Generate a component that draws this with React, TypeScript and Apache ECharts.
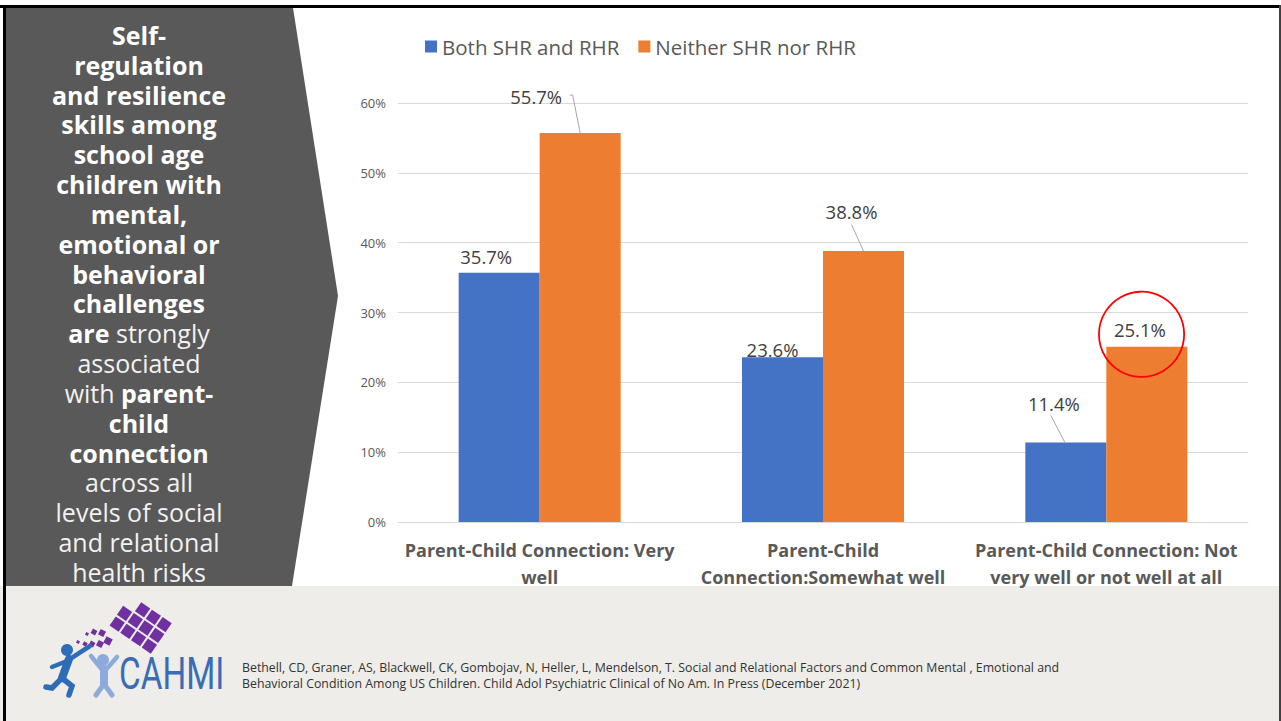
import React, { useEffect, useRef } from 'react';
import * as echarts from 'echarts';

// ---------- data ----------
const categories = [
  'Parent-Child Connection: Very\nwell',
  'Parent-Child\nConnection:Somewhat well',
  'Parent-Child Connection: Not\nvery well or not well at all',
];
const seriesNames = ['Both SHR and RHR', 'Neither SHR nor RHR'];
const bothValues = [35.7, 23.6, 11.4];
const neitherValues = [55.7, 38.8, 25.1];
const yMin = 0;
const yMax = 60;
const yStep = 10;
const highlighted = { series: 1, index: 2 };

const panelLines: [string, string][][] = [
  [['b', 'Self-']],
  [['b', 'regulation']],
  [['b', 'and resilience']],
  [['b', 'skills among']],
  [['b', 'school age']],
  [['b', 'children with']],
  [['b', 'mental,']],
  [['b', 'emotional or']],
  [['b', 'behavioral']],
  [['b', 'challenges']],
  [['b', 'are'], ['n', ' strongly']],
  [['n', 'associated']],
  [['n', 'with '], ['b', 'parent-']],
  [['b', 'child']],
  [['b', 'connection']],
  [['n', 'across all']],
  [['n', 'levels of social']],
  [['n', 'and relational']],
  [['n', 'health risks']],
];
const citationLines = [
  'Bethell, CD, Graner, AS, Blackwell, CK, Gombojav, N, Heller, L, Mendelson, T. Social and Relational Factors and Common Mental , Emotional and',
  'Behavioral Condition Among US Children. Child Adol Psychiatric Clinical of No Am. In Press (December 2021)',
];
const logoText = 'CAHMI';

// ---------- styles ----------
const BLUE = '#4472C4';
const ORANGE = '#ED7D31';
const FONT = "'Open Sans', 'Noto Sans', sans-serif";
const BAR_WIDTH = 81;
const LABEL_OFFSETS = [
  [[-13, -1], [-10, 7], [-12, -24]],
  [[-44, -22], [-12, -25], [-7, -2]],
];
const LEADERS = [
  { s: 1, i: 0, pts: [[-10.5, -38], [-7.5, -38], [0, 0]] },
  { s: 1, i: 1, pts: [[-12, -26.5], [0, 0]] },
  { s: 0, i: 2, pts: [[-15, -27], [-1, 0]] },
];
const CIRCLE = { dx: -5.3, dy: -12.4, r: 42.6 };
const PANEL_FONT = 21;
const PANEL_SCALE = 25 / PANEL_FONT;

function staticGraphics(): any[] {
  const g: any[] = [];
  // footer
  g.push({ type: 'rect', shape: { x: 0, y: 586, width: 1281, height: 135 }, style: { fill: '#eeede9' }, silent: true });
  // left panel chevron
  g.push({
    type: 'polygon',
    shape: { points: [[5, 8], [293, 8], [338, 296], [292, 586], [5, 586]] },
    style: { fill: '#595959' },
    silent: true,
  });
  // frame
  g.push({ type: 'rect', shape: { x: 0, y: 5, width: 1281, height: 3 }, style: { fill: '#000' }, silent: true });
  g.push({ type: 'rect', shape: { x: 3, y: 5, width: 3, height: 716 }, style: { fill: '#000' }, silent: true });
  g.push({ type: 'rect', shape: { x: 1279, y: 5, width: 2, height: 716 }, style: { fill: '#404040' }, silent: true });

  // panel text
  panelLines.forEach((segs, k) => {
    g.push({
      type: 'text',
      x: 139,
      y: 35 + k * 29.83,
      scaleX: PANEL_SCALE,
      scaleY: PANEL_SCALE,
      silent: true,
      style: {
        text: segs.map(([w, t]) => `{${w}|${t}}`).join(''),
        align: 'center',
        verticalAlign: 'middle',
        rich: {
          b: { fontWeight: 'bold', fontSize: PANEL_FONT, lineHeight: 22, fontFamily: FONT, fill: '#ffffff' },
          n: { fontWeight: 'normal', fontSize: PANEL_FONT, lineHeight: 22, fontFamily: FONT, fill: '#f2f2f2' },
        },
      },
    });
  });

  // citation
  citationLines.forEach((t, k) => {
    g.push({
      type: 'text',
      x: 242,
      y: 667 + k * 15.5,
      scaleX: 0.95,
      silent: true,
      style: { text: t, fontSize: 13, lineHeight: 15, fontFamily: FONT, fill: '#333333', verticalAlign: 'middle' },
    });
  });

  // logo: purple grid
  const purple = '#7030a0';
  const gridKids: any[] = [];
  const cells = [
    [0, 0], [1, 0], [2, 0],
    [0, 1], [1, 1], [2, 1],
    [0, 2], [1, 2], [2, 2],
    [-1, 1], [-1, 2],
  ];
  cells.forEach(([c, r]) => {
    gridKids.push({ type: 'rect', shape: { x: (c - 1) * 13 - 5.5, y: (r - 1) * 13 - 5.5, width: 11, height: 11 }, style: { fill: purple } });
  });
  g.push({ type: 'group', x: 146, y: 628, rotation: -0.6, children: gridKids, silent: true });
  const smalls = [
    [108, 641, 7], [100, 644, 6], [92, 644, 5], [85, 644, 4], [78, 642, 3],
    [102, 633, 6], [94, 632, 5], [87, 634, 3],
  ];
  smalls.forEach(([x, y, s]) => {
    g.push({ type: 'rect', x, y, rotation: -0.5, shape: { x: -s / 2, y: -s / 2, width: s, height: s }, style: { fill: purple }, silent: true });
  });
  // blue running figure
  const dark = '#2e6cb5';
  g.push({ type: 'circle', shape: { cx: 67, cy: 650, r: 6 }, style: { fill: dark }, silent: true });
  g.push({ type: 'polyline', shape: { points: [[69, 659], [62, 678]] }, style: { stroke: dark, lineWidth: 8, lineCap: 'round' }, silent: true });
  g.push({ type: 'polyline', shape: { points: [[52, 667], [67, 661], [90, 646]] }, style: { stroke: dark, lineWidth: 4.5, lineCap: 'round', fill: 'none' }, silent: true });
  g.push({ type: 'polyline', shape: { points: [[62, 678], [52, 688], [46, 687]] }, style: { stroke: dark, lineWidth: 5.5, lineCap: 'round', fill: 'none' }, silent: true });
  g.push({ type: 'polyline', shape: { points: [[62, 678], [72, 686], [69, 695]] }, style: { stroke: dark, lineWidth: 5.5, lineCap: 'round', fill: 'none' }, silent: true });
  // light figure
  const light = '#8eaadb';
  g.push({ type: 'circle', shape: { cx: 103, cy: 660, r: 6 }, style: { fill: light }, silent: true });
  g.push({ type: 'polyline', shape: { points: [[104, 669], [104, 684]] }, style: { stroke: light, lineWidth: 8, lineCap: 'round' }, silent: true });
  g.push({ type: 'polyline', shape: { points: [[91, 656], [104, 672], [117, 657]] }, style: { stroke: light, lineWidth: 4.5, lineCap: 'round', fill: 'none' }, silent: true });
  g.push({ type: 'polyline', shape: { points: [[104, 684], [96, 695]] }, style: { stroke: light, lineWidth: 5, lineCap: 'round' }, silent: true });
  g.push({ type: 'polyline', shape: { points: [[104, 684], [112, 695]] }, style: { stroke: light, lineWidth: 5, lineCap: 'round' }, silent: true });
  // CAHMI word
  g.push({
    type: 'text',
    x: 119,
    y: 674,
    scaleX: 0.74,
    silent: true,
    style: { text: logoText, fontSize: 45, fontFamily: 'Roboto, sans-serif', fill: '#3a6cb4', verticalAlign: 'middle' },
  });
  return g;
}

function buildOption(graphic: any[]): any {
  const labelCfg = {
    show: true,
    position: 'top',
    distance: 5,
    formatter: (p: any) => `${Number(p.value).toFixed(1)}%`,
    color: '#404040',
    fontSize: 18.5,
    lineHeight: 20,
    fontFamily: FONT,
  };
  return {
    animation: false,
    backgroundColor: '#ffffff',
    textStyle: { fontFamily: FONT },
    legend: {
      top: 36,
      left: 425,
      padding: 0,
      icon: 'rect',
      itemWidth: 12,
      itemHeight: 12,
      itemGap: 19,
      data: seriesNames,
      textStyle: { color: '#595959', fontSize: 20.5, fontFamily: FONT },
    },
    grid: { left: 398, right: 33, top: 103, bottom: 199, containLabel: false },
    xAxis: {
      type: 'category',
      data: categories,
      axisTick: { show: false },
      axisLine: { lineStyle: { color: '#d9d9d9' } },
      axisLabel: {
        interval: 0,
        margin: 14,
        color: '#595959',
        fontSize: 18,
        fontWeight: 'bold',
        lineHeight: 27,
        fontFamily: FONT,
      },
    },
    yAxis: {
      type: 'value',
      min: yMin,
      max: yMax,
      interval: yStep,
      axisLabel: { formatter: '{value}%', color: '#595959', fontSize: 13, margin: 12, fontFamily: FONT },
      splitLine: { lineStyle: { color: '#d9d9d9' } },
      axisLine: { show: false },
      axisTick: { show: false },
    },
    series: [
      {
        type: 'bar',
        name: seriesNames[0],
        data: bothValues,
        barWidth: BAR_WIDTH,
        barGap: '0%',
        itemStyle: { color: BLUE },
        label: labelCfg,
        labelLayout: (p: any) => ({ dx: LABEL_OFFSETS[0][p.dataIndex][0], dy: LABEL_OFFSETS[0][p.dataIndex][1] }),
      },
      {
        type: 'bar',
        name: seriesNames[1],
        data: neitherValues,
        barWidth: BAR_WIDTH,
        barGap: '0%',
        itemStyle: { color: ORANGE },
        label: labelCfg,
        labelLayout: (p: any) => ({ dx: LABEL_OFFSETS[1][p.dataIndex][0], dy: LABEL_OFFSETS[1][p.dataIndex][1] }),
      },
    ],
    graphic,
  };
}

export default function App() {
  const ref = useRef<HTMLDivElement>(null);
  useEffect(() => {
    const el = ref.current;
    if (!el) return;
    const chart = echarts.init(el, null, { renderer: 'svg' });
    const base = staticGraphics();
    chart.setOption(buildOption(base));

    const barTop = (s: number, i: number) => {
      const v = s === 0 ? bothValues[i] : neitherValues[i];
      const p = chart.convertToPixel({ xAxisIndex: 0, yAxisIndex: 0 }, [i, v]) as number[];
      return [p[0] + (s === 0 ? -BAR_WIDTH / 2 : BAR_WIDTH / 2), p[1]];
    };
    const dyn: any[] = [];
    LEADERS.forEach((l) => {
      const [bx, by] = barTop(l.s, l.i);
      dyn.push({
        type: 'polyline',
        silent: true,
        z: 50,
        shape: { points: l.pts.map(([dx, dy]) => [bx + dx, by + dy]) },
        style: { stroke: '#a6a6a6', lineWidth: 1, fill: 'none' },
      });
    });
    const [cx, cy] = barTop(highlighted.series, highlighted.index);
    dyn.push({
      type: 'circle',
      silent: true,
      z: 60,
      shape: { cx: cx + CIRCLE.dx, cy: cy + CIRCLE.dy, r: CIRCLE.r },
      style: { fill: 'none', stroke: '#ff0000', lineWidth: 1.8 },
    });
    chart.setOption(buildOption([...base, ...dyn]), true);
    return () => chart.dispose();
  }, []);
  return <div ref={ref} style={{ position: 'fixed', left: 0, top: 0, width: 1281, height: 721 }} />;
}
